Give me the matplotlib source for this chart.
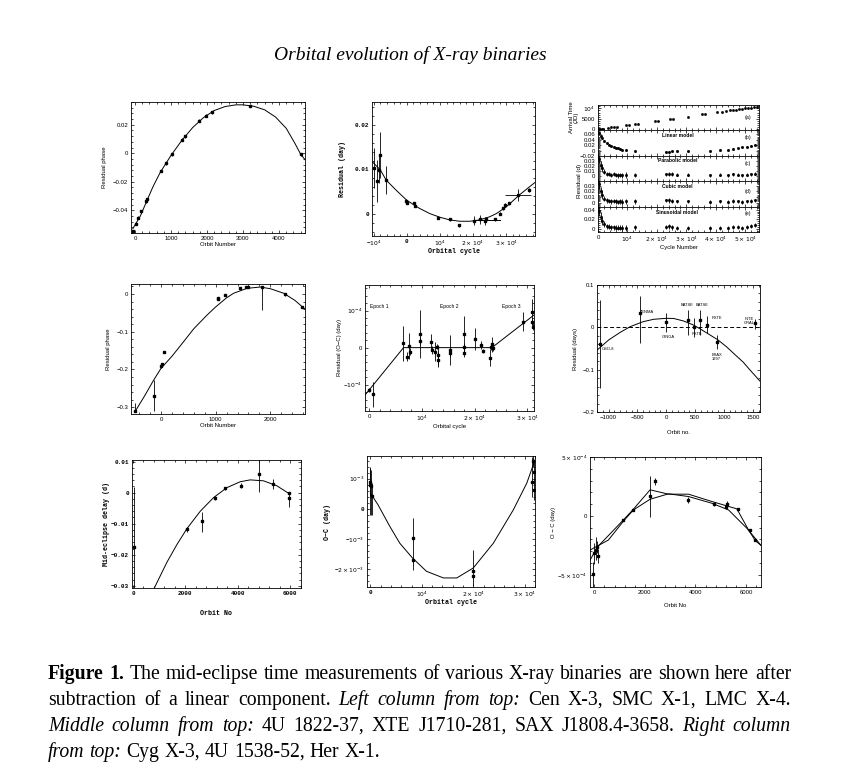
import matplotlib
matplotlib.use('Agg')
import matplotlib.pyplot as plt
from matplotlib.ticker import AutoMinorLocator

# ---------------- DATA ----------------
# Panel 1: Cen X-3
cen_orbit = [-46, 28, 74, 156, 303, 322, 717, 874, 1021, 1315, 1389, 1775, 1959, 2143, 3191, 4598]
cen_resid = [-0.0548, -0.0494, -0.0454, -0.0407, -0.0336, -0.0322, -0.0125, -0.0071, -0.0007,
             0.0094, 0.0120, 0.0228, 0.0264, 0.0289, 0.0332, -0.0007]
cen_err = [0.001] * 16
cen_fit_x = [-60, 150, 320, 500, 700, 1000, 1300, 1600, 1900, 2200, 2500, 2800, 3000, 3300, 3600,
             3900, 4200, 4450, 4600, 4720]
cen_fit_y = [-0.0530, -0.0440, -0.0340, -0.0235, -0.0135, -0.0015, 0.0090, 0.0180, 0.0250, 0.0300,
             0.0328, 0.0340, 0.0340, 0.0330, 0.0305, 0.0255, 0.0175, 0.0065, -0.0007, -0.0045]

# Panel 2: 4U 1822-37
u18_cycle = [-9800, -9100, -8500, -8100, -6200, -200, 100, 2300, 2500, 9400, 13000, 15800, 20400,
             22000, 23600, 24000, 26500, 28000, 29000, 29500, 31000, 33500, 37000]
u18_resid = [0.0103, 0.0075, 0.0099, 0.0132, 0.0076, 0.0029, 0.0026, 0.0024, 0.0019, -0.0008,
             -0.0012, -0.0025, -0.0015, -0.0012, -0.0015, -0.0012, -0.0012, 0.0001, 0.0013,
             0.0020, 0.0024, 0.0043, 0.0054]
u18_err = [0.0045, 0.0047, 0.0030, 0.0052, 0.0031, 0.0004, 0.0004, 0.0004, 0.0004, 0.0003, 0.0003,
           0.0003, 0.0010, 0.0011, 0.0009, 0.0005, 0.0004, 0.0004, 0.0004, 0.0004, 0.0003, 0.0013,
           0.0004]
u18_xerr = [0] * 21 + [4000, 0]
u18_fit_x = [-10500, -8000, -6200, -3000, 0, 3800, 7000, 10000, 13000, 16000, 19000, 22000,
             25000, 27000, 30000, 34000, 38700]
u18_fit_y = [0.0118, 0.0099, 0.0076, 0.0052, 0.0031, 0.0013, 0.0001, -0.0007, -0.0013, -0.0016,
             -0.0016, -0.0013, -0.0006, 0.0001, 0.0016, 0.0043, 0.0071]
u18_flat_x = [20000, 28000]
u18_flat_y = [-0.0013, -0.0013]

# Panel 3: Cyg X-3
cyg_a_cycle = [300, 800, 1300, 1800, 3500, 4500, 5500, 6500, 9500, 10500, 12500, 13500, 19500,
               20500, 24500, 25500, 30500, 35500, 36500, 40500, 42000, 43500, 45000, 46000, 47000,
               48000, 49000, 50000, 51000, 52000, 53000, 54000]
cyg_a_time = [60, 160, 260, 360, 700, 900, 1100, 1300, 1900, 2100, 2500, 2700, 3900, 4100, 4900,
              5100, 6100, 7100, 7300, 8100, 8400, 8700, 9000, 9200, 9400, 9600, 9800, 10000, 10200,
              10400, 10600, 10800]
cyg_cycle = [300, 900, 1500, 2200, 3000, 3800, 4500, 5300, 6000, 6700, 7500, 8300, 9500, 12500,
             23000, 24000, 25000, 27000, 30500, 38000, 41500, 44000, 46000, 47500, 49000, 50500,
             52000, 53500]
cyg_linear = [0.064, 0.054, 0.045, 0.036, 0.027, 0.022, 0.017, 0.014, 0.011, 0.009, 0.006, 0.004,
              0.002, -0.002, -0.004, -0.004, -0.003, -0.003, -0.002, 0.000, 0.002, 0.004, 0.007,
              0.009, 0.012, 0.015, 0.018, 0.022]
cyg_parab = [0.033, 0.022, 0.015, 0.008, 0.004, 0.003, 0.002, 0.003, 0.002, 0.001, 0.002, 0.001,
             0.002, 0.002, 0.003, 0.004, 0.003, 0.002, 0.002, 0.001, 0.002, 0.001, 0.003, 0.002,
             0.001, 0.002, 0.003, 0.004]
cyg_cubic = [0.032, 0.020, 0.014, 0.007, 0.004, 0.003, 0.002, 0.003, 0.002, 0.001, 0.002, 0.001,
             0.002, 0.002, 0.004, 0.004, 0.003, 0.002, 0.002, 0.001, 0.002, 0.001, 0.003, 0.002,
             0.001, 0.002, 0.003, 0.004]
cyg_sinus = [0.037, 0.024, 0.016, 0.009, 0.005, 0.004, 0.003, 0.003, 0.002, 0.002, 0.002, 0.001,
             0.002, 0.003, 0.004, 0.005, 0.003, 0.002, 0.002, 0.001, 0.002, 0.002, 0.003, 0.003,
             0.002, 0.003, 0.005, 0.008]
cyg_err = [0.008, 0.008, 0.007, 0.005, 0.004, 0.004, 0.004, 0.004, 0.004, 0.004, 0.004, 0.005,
           0.005, 0.004, 0.003, 0.004, 0.004, 0.003, 0.003, 0.003, 0.003, 0.003, 0.003, 0.003,
           0.003, 0.003, 0.003, 0.003]
cyg_models = ['Linear model', 'Parabolic model', 'Cubic model', 'Sinusoidal model']
cyg_tags = ['(a)', '(b)', '(c)', '(d)', '(e)']

# Panel 4: SMC X-1
smc_orbit = [-470, -134, 0, 18, 61, 1037, 1050, 1165, 1439, 1555, 1591, 1848, 2262, 2579]
smc_resid = [-0.309, -0.269, -0.192, -0.186, -0.154, -0.013, -0.011, -0.003, 0.015, 0.018, 0.019,
             0.018, -0.001, -0.034]
smc_err_lo = [0.005, 0.041, 0.003, 0.003, 0.003, 0.003, 0.003, 0.003, 0.003, 0.003, 0.003, 0.060,
              0.003, 0.003]
smc_err_hi = [0.021, 0.041, 0.003, 0.003, 0.003, 0.003, 0.003, 0.003, 0.003, 0.003, 0.003, 0.004,
              0.003, 0.003]
smc_fit_x = [-472, -300, -134, 0, 200, 415, 600, 841, 994, 1200, 1329, 1573, 1817, 2000, 2244,
             2450, 2634]
smc_fit_y = [-0.311, -0.270, -0.228, -0.197, -0.165, -0.126, -0.092, -0.056, -0.035, -0.010,
             0.002, 0.015, 0.0185, 0.014, 0.002, -0.017, -0.040]

# Panel 5: XTE J1710-281 (units of 1e-4 day)
xte_cycle = [0, 636, 6485, 7247, 7629, 7756, 9536, 9536, 11760, 11890, 12520, 12840, 12970, 12970,
             15260, 15380, 17930, 17930, 17930, 20150, 21230, 21550, 22890, 23140, 23330, 23460,
             29240, 30900, 30900, 31020]
xte_resid = [-1.14, -1.26, 0.12, -0.24, 0.05, -0.11, 0.36, 0.18, 0.16, -0.06, -0.11, 0.03, -0.20,
             -0.33, -0.06, -0.15, 0.36, 0.03, -0.15, 0.23, 0.07, -0.09, -0.27, 0.03, 0.09, 0.00,
             0.70, 0.95, 0.70, 0.57]
xte_err = [0.05, 0.34, 0.47, 0.13, 0.35, 0.10, 0.65, 0.10, 0.20, 0.10, 0.25, 0.08, 0.27, 0.20, 0.40,
           0.10, 0.50, 0.10, 0.10, 0.30, 0.10, 0.05, 0.23, 0.10, 0.20, 0.08, 0.25, 0.35, 0.10, 0.10]
xte_fit_x = [-826, 6500, 23300, 31300]
xte_fit_y = [-1.28, 0.0, 0.0, 0.88]
xte_epochs = ['Epoch 1', 'Epoch 2', 'Epoch 3']
xte_epoch_x = [130, 13500, 25200]

# Panel 6: 4U 1538-52
u15_orbit = [-1149, -460, 0, 374, 483, 586, 713, 885, 1540]
u15_resid = [-0.040, 0.035, 0.013, 0.017, 0.000, 0.017, 0.0055, -0.034, 0.0095]
u15_err_lo = [0.103, 0.073, 0.024, 0.035, 0.022, 0.035, 0.020, 0.017, 0.013]
u15_err_hi = [0.105, 0.038, 0.020, 0.024, 0.021, 0.024, 0.021, 0.016, 0.010]
u15_fit_x = [-1201, -1000, -800, -626, -400, -218, 0, 126, 300, 471, 600, 759, 900, 1046, 1200,
             1333, 1480, 1626]
u15_fit_y = [-0.054, -0.030, -0.012, 0.0016, 0.0134, 0.019, 0.0213, 0.021, 0.015, 0.0055, -0.0047,
             -0.018, -0.030, -0.046, -0.0655, -0.082, -0.105, -0.127]
u15_labels = ['OSO-8', 'TENMA', 'GINGA', 'BATSE', 'RXTE', 'BATSE', 'RXTE', 'BSAX\n1997',
              'INTE\nGRAL']
u15_lab_x = [-1110, -448, -80, 368, 529, 615, 790, 874, 1440]
u15_lab_y = [-0.051, 0.032, -0.018, 0.047, -0.010, 0.047, 0.023, -0.060, 0.016]
u15_lab_ha = ['left', 'left', 'left', 'center', 'center', 'center', 'left', 'center', 'center']
u15_lab_va = ['center', 'bottom', 'top', 'bottom', 'top', 'bottom', 'center', 'top', 'center']

# Panel 7: LMC X-4
lmc_orbit = [25, 2059, 2631, 3140, 3521, 4118, 4792, 5338, 5948, 5948]
lmc_delay = [-0.0174, -0.0118, -0.0091, -0.0018, 0.0014, 0.0022, 0.0060, 0.0027, 0.0000, -0.0018]
lmc_err_lo = [0.0200, 0.0008, 0.0035, 0.0006, 0.0005, 0.0008, 0.0057, 0.0016, 0.0003, 0.0029]
lmc_err_hi = [0.0193, 0.0008, 0.0030, 0.0006, 0.0005, 0.0008, 0.0047, 0.0016, 0.0003, 0.0018]
lmc_fit_x = [813, 1295, 1676, 2057, 2565, 3073, 3581, 4089, 4470, 4978, 5486, 5968]
lmc_fit_y = [-0.0307, -0.0224, -0.0167, -0.0116, -0.0060, -0.0016, 0.0016, 0.0035, 0.0041,
             0.0038, 0.0022, -0.0004]

# Panel 8: SAX J1808.4-3658 (units of 1e-3 day)
sax_cycle = [-130, 0, 195, 325, 8187, 8187, 20013, 20013, 31449, 31579, 31709, 31839]
sax_oc = [0.90, 0.79, 0.74, 0.41, -0.97, -1.69, -2.07, -2.24, 0.90, 1.57, 1.23, 0.63]
sax_err_lo = [1.10, 0.38, 0.94, 0.61, 1.05, 0.05, 0.50, 0.05, 0.50, 0.20, 0.38, 0.33]
sax_err_hi = [0.50, 0.56, 0.55, 0.44, 0.66, 0.05, 0.72, 0.05, 0.83, 0.20, 0.38, 0.33]
sax_fit_x = [0, 1494, 3769, 5718, 8187, 10900, 14200, 16800, 20000, 23900, 27800, 30400, 32000]
sax_fit_y = [0.52, 0.13, -0.58, -1.14, -1.63, -2.07, -2.29, -2.29, -1.96, -1.14, -0.03, 0.85, 1.62]

# Panel 9: Her X-1 (units of 1e-4 day)
her_orbit = [-40, 0, 53, 93, 132, 1150, 1520, 2208, 2406, 3702, 4720, 5210, 5250, 5686, 6148, 6373]
her_oc = [-4.90, -3.19, -2.91, -2.62, -3.42, -0.34, 0.51, 1.71, 2.93, 1.37, 1.03, 0.80, 1.03, 0.60,
          -1.20, -2.05]
her_err_lo = [1.14, 0.93, 0.85, 0.50, 0.60, 0.10, 0.10, 1.77, 0.33, 0.28, 0.15, 0.25, 0.20, 0.10,
              0.10, 0.10]
her_err_hi = [1.00, 0.93, 1.14, 0.50, 0.60, 0.10, 0.10, 1.65, 0.33, 0.28, 0.15, 0.25, 0.20, 0.10,
              0.10, 0.10]
her_polyA_x = [-172, 130, 1150, 1520, 2207, 2934, 3727, 4650, 5642, 6105, 6370, 6596]
her_polyA_y = [-3.76, -2.62, -0.34, 0.51, 2.22, 1.85, 1.85, 1.23, 0.60, -1.20, -2.10, -2.50]
her_fitB_x = [-172, 555, 1150, 1546, 2207, 2934, 3727, 4650, 5311, 6038, 6596]
her_fitB_y = [-2.90, -2.05, -0.45, 0.51, 1.42, 1.88, 1.65, 1.08, 0.51, -1.05, -2.50]

TITLE = 'Orbital evolution of X-ray binaries'
CAPTION = [
    [('Figure 1.', 'bold'), ('The mid-eclipse time measurements of various X-ray binaries are shown here after', 'normal')],
    [('subtraction of a linear component.', 'normal'), ('Left column from top:', 'italic'), ('Cen X-3, SMC X-1, LMC X-4.', 'normal')],
    [('Middle column from top:', 'italic'), ('4U 1822-37, XTE J1710-281, SAX J1808.4-3658.', 'normal'), ('Right column', 'italic')],
    [('from top:', 'italic'), ('Cyg X-3, 4U 1538-52, Her X-1.', 'normal')],
]

# ---------------- FIGURE ----------------
W, H = 843, 780
fig = plt.figure(figsize=(W / 100, H / 100), dpi=100)
SANS = ['Liberation Sans', 'DejaVu Sans']
MONO = ['Liberation Mono', 'DejaVu Sans Mono']
SERIF = ['Liberation Serif', 'DejaVu Serif']
TS = 4.3


def make_ax(l, t, r, b):
    return fig.add_axes([l / W, 1 - b / H, (r - l) / W, (b - t) / H])


def style(ax, xt, xl, yt, yl, xlim, ylim, fam=SANS, weight='normal', nminor=5):
    ax.set_xlim(*xlim)
    ax.set_ylim(*ylim)
    ax.set_xticks(xt, xl, fontsize=TS, family=fam, weight=weight)
    ax.set_yticks(yt, yl, fontsize=TS, family=fam, weight=weight)
    ax.xaxis.set_minor_locator(AutoMinorLocator(nminor))
    ax.yaxis.set_minor_locator(AutoMinorLocator(nminor))
    ax.tick_params(which='both', direction='in', top=True, right=True, width=0.5, pad=2)
    ax.tick_params(which='major', length=2.5)
    ax.tick_params(which='minor', length=1.2)
    for s in ax.spines.values():
        s.set_linewidth(0.6)


def pts(ax, x, y, yerr=None, xerr=None, ms=1.6):
    ax.errorbar(x, y, yerr=yerr, xerr=xerr, fmt='s', ms=ms, mfc='k', mec='k', ecolor='k',
                elinewidth=0.6, capsize=0, lw=0)


LW = 0.7
M = '\u2212'

# Panel 1: Cen X-3
ax = make_ax(131, 102, 305, 233)
style(ax, [0, 1000, 2000, 3000, 4000], ['0', '1000', '2000', '3000', '4000'],
      [-0.04, -0.02, 0, 0.02], [M + '0.04', M + '0.02', '0', '0.02'], (-110, 4720), (-0.056, 0.036))
ax.plot(cen_fit_x, cen_fit_y, color='k', lw=LW)
pts(ax, cen_orbit, cen_resid, cen_err)
ax.set_xlabel('Orbit Number', fontsize=TS, family=SANS, labelpad=1)
ax.set_ylabel('Residual phase', fontsize=TS, family=SANS, labelpad=4)

# Panel 2: 4U 1822-37
ax = make_ax(372, 102, 535, 236)
style(ax, [-1e4, 0, 1e4, 2e4, 3e4],
      [M + r'$10^4$', '0', r'$10^4$', r'$2\times10^4$', r'$3\times10^4$'],
      [0, 0.01, 0.02], ['0', '0.01', '0.02'], (-10500, 38700), (-0.0049, 0.0251), fam=MONO,
      weight='bold')
ax.plot(u18_fit_x, u18_fit_y, color='k', lw=LW)
ax.plot(u18_flat_x, u18_flat_y, color='k', lw=LW)
pts(ax, u18_cycle, u18_resid, u18_err, u18_xerr)
ax.set_xlabel('Orbital cycle', fontsize=TS + 0.5, family=MONO, weight='bold', labelpad=0)
ax.set_ylabel('Residual (day)', fontsize=TS + 0.5, family=MONO, weight='bold', labelpad=6)

# Panel 3: Cyg X-3 (stacked)
bounds = [105, 130, 156, 181, 207, 232]
cyg_sets = [cyg_linear, cyg_parab, cyg_cubic, cyg_sinus]
cyg_ylims = [(-0.0196, 0.076), (-0.0098, 0.039), (-0.0078, 0.038), (-0.007, 0.0456)]
cyg_yticks = [[-0.02, 0, 0.02, 0.04, 0.06], [0, 0.01, 0.02, 0.03], [0, 0.01, 0.02, 0.03],
              [0, 0.02, 0.04]]
cyg_errscale = [0.5, 1.0, 1.0, 1.3]
cyg_tag_y = [0.5, 0.7, 0.7, 0.58, 0.73]
xt3 = [0, 1e4, 2e4, 3e4, 4e4, 5e4]
xl3 = ['0', r'$10^4$', r'$2\times10^4$', r'$3\times10^4$', r'$4\times10^4$', r'$5\times10^4$']
for i in range(5):
    ax = make_ax(598, bounds[i], 759, bounds[i + 1])
    labels = xl3 if i == 4 else [''] * len(xt3)
    if i == 0:
        style(ax, xt3, labels, [0, 5000, 1e4], ['0', '5000', r'$10^4$'], (0, 54700), (-300, 11600))
        ax.plot(cyg_a_cycle, cyg_a_time, 's', ms=0.9, color='k')
        ax.set_ylabel('Arrival Time\n(JD)', fontsize=TS, family=SANS, labelpad=2, linespacing=1.0)
    else:
        yt = cyg_yticks[i - 1]
        yl = [('%g' % v).replace('-', M) for v in yt]
        style(ax, xt3, labels, yt, yl, (0, 54700), cyg_ylims[i - 1])
        errs = [e * cyg_errscale[i - 1] for e in cyg_err]
        pts(ax, cyg_cycle, cyg_sets[i - 1], errs, ms=1.0)
        ax.text(27000, cyg_ylims[i - 1][1] - 0.1 * (cyg_ylims[i - 1][1] - cyg_ylims[i - 1][0]),
                cyg_models[i - 1], fontsize=3.6, family=SANS, weight='bold', ha='center', va='top')
    ax.text(51000, cyg_tag_y[i], cyg_tags[i], transform=ax.get_xaxis_transform(), fontsize=3.8,
            family=SANS, ha='center', va='center')
    if i == 4:
        ax.set_xlabel('Cycle Number', fontsize=TS, family=SANS, labelpad=1)
fig.text(580 / W, 1 - 181 / H, 'Residual (d)', rotation=90, fontsize=TS + 0.3, family=SANS,
         ha='center', va='center')

# Panel 4: SMC X-1
ax = make_ax(131, 284, 305, 414)
style(ax, [0, 1000, 2000], ['0', '1000', '2000'], [-0.3, -0.2, -0.1, 0],
      [M + '0.3', M + '0.2', M + '0.1', '0'], (-549, 2634), (-0.318, 0.0265))
ax.plot(smc_fit_x, smc_fit_y, color='k', lw=LW)
pts(ax, smc_orbit, smc_resid, [smc_err_lo, smc_err_hi])
ax.set_xlabel('Orbit Number', fontsize=TS, family=SANS, labelpad=1)
ax.set_ylabel('Residual phase', fontsize=TS, family=SANS, labelpad=4)

# Panel 5: XTE J1710-281
ax = make_ax(365, 285, 534, 411)
style(ax, [0, 1e4, 2e4, 3e4], ['0', r'$10^4$', r'$2\times10^4$', r'$3\times10^4$'],
      [-1, 0, 1], [M + r'$10^{-4}$', '0', r'$10^{-4}$'], (-826, 31300), (-1.71, 1.69))
ax.plot(xte_fit_x, xte_fit_y, color='k', lw=LW)
pts(ax, xte_cycle, xte_resid, xte_err)
for lab, xx in zip(xte_epochs, xte_epoch_x):
    ax.text(xx, 1.11, lab, fontsize=3.6, family=SANS, ha='left', va='center')
ax.set_xlabel('Orbital cycle', fontsize=TS, family=SANS, labelpad=1)
ax.set_ylabel('Residual (O' + M + 'C) (day)', fontsize=TS, family=SANS, labelpad=1)

# Panel 6: 4U 1538-52
ax = make_ax(597, 285, 760, 412)
style(ax, [-1000, -500, 0, 500, 1000, 1500], [M + '1000', M + '500', '0', '500', '1000', '1500'],
      [-0.2, -0.1, 0, 0.1], [M + '0.2', M + '0.1', '0', '0.1'], (-1201, 1626), (-0.2, 0.1))
ax.axhline(0, color='k', lw=0.7, ls=(0, (4, 2.5)))
ax.plot(u15_fit_x, u15_fit_y, color='k', lw=LW)
pts(ax, u15_orbit, u15_resid, [u15_err_lo, u15_err_hi])
for lab, xx, yy, ha, va in zip(u15_labels, u15_lab_x, u15_lab_y, u15_lab_ha, u15_lab_va):
    ax.text(xx, yy, lab, fontsize=2.9, family=SANS, ha=ha, va=va, linespacing=1.0)
ax.set_xlabel('Orbit no.', fontsize=TS, family=SANS, labelpad=7)
ax.set_ylabel('Residual (days)', fontsize=TS, family=SANS, labelpad=3)

# Panel 7: LMC X-4
ax = make_ax(132, 460, 301, 588)
style(ax, [0, 2000, 4000, 6000], ['0', '2000', '4000', '6000'],
      [-0.03, -0.02, -0.01, 0, 0.01], [M + '0.03', M + '0.02', M + '0.01', '0', '0.01'],
      (-38, 6408), (-0.0307, 0.0105), fam=MONO, weight='bold')
ax.plot(lmc_fit_x, lmc_fit_y, color='k', lw=LW)
pts(ax, lmc_orbit, lmc_delay, [lmc_err_lo, lmc_err_hi])
ax.set_xlabel('Orbit No', fontsize=TS + 0.5, family=MONO, weight='bold', labelpad=10)
ax.set_ylabel('Mid-eclipse delay (d)', fontsize=TS + 0.5, family=MONO, weight='bold', labelpad=1)

# Panel 8: SAX J1808.4-3658
ax = make_ax(367, 456, 535, 587)
style(ax, [0, 1e4, 2e4, 3e4], ['0', r'$10^4$', r'$2\times10^4$', r'$3\times10^4$'],
      [-2, -1, 0, 1], [M + r'$2\times10^{-3}$', M + r'$10^{-3}$', '0', r'$10^{-3}$'],
      (-660, 32000), (-2.59, 1.75), fam=MONO, weight='bold')
ax.plot(sax_fit_x, sax_fit_y, color='k', lw=LW)
pts(ax, sax_cycle, sax_oc, [sax_err_lo, sax_err_hi])
ax.set_xlabel('Orbital cycle', fontsize=TS + 0.5, family=MONO, weight='bold', labelpad=0)
ax.set_ylabel('O' + M + 'C (day)', fontsize=TS + 0.5, family=MONO, weight='bold', labelpad=2)

# Panel 9: Her X-1
ax = make_ax(590, 457, 761, 587)
style(ax, [0, 2000, 4000, 6000], ['0', '2000', '4000', '6000'],
      [-5, 0, 5], [M + r'$5\times10^{-4}$', '0', r'$5\times10^{-4}$'], (-172, 6596), (-6.04, 5.01))
ax.plot(her_polyA_x, her_polyA_y, color='k', lw=LW)
ax.plot(her_fitB_x, her_fitB_y, color='k', lw=LW)
pts(ax, her_orbit, her_oc, [her_err_lo, her_err_hi])
ax.set_xlabel('Orbit No', fontsize=TS, family=SANS, labelpad=6)
ax.set_ylabel('O ' + M + ' C (day)', fontsize=TS, family=SANS, labelpad=1)

# Title
fig.text(410 / W, 1 - 55 / H, TITLE, fontsize=14.0, family=SERIF, style='italic',
         ha='center', va='center')

# Caption (justified)
renderer = fig.canvas.get_renderer()
CFS = 14.2
base_y = [679, 705, 731, 757]
x0, x1 = 48, 791


def props(kind):
    if kind == 'bold':
        return dict(family=SERIF, weight='bold', fontsize=CFS)
    if kind == 'italic':
        return dict(family=SERIF, style='italic', fontsize=CFS)
    return dict(family=SERIF, fontsize=CFS)


for li, segs in enumerate(CAPTION):
    words = []
    for text, kind in segs:
        for w in text.split(' '):
            words.append((w, kind))
    arts = []
    widths = []
    for w, kind in words:
        t = fig.text(0, 1 - base_y[li] / H, w, va='baseline', ha='left', **props(kind))
        bb = t.get_window_extent(renderer)
        arts.append(t)
        widths.append(bb.width)
    total = sum(widths)
    if li < len(CAPTION) - 1:
        gap = (x1 - x0 - total) / (len(words) - 1)
    else:
        sp = fig.text(0, 0, 'a a', **props('normal'))
        sa = fig.text(0, 0, 'aa', **props('normal'))
        gap = sp.get_window_extent(renderer).width - sa.get_window_extent(renderer).width
        sp.remove()
        sa.remove()
    x = x0
    for t, wd in zip(arts, widths):
        t.set_x(x / W)
        x += wd + gap

fig.savefig('out.png', dpi=100)
